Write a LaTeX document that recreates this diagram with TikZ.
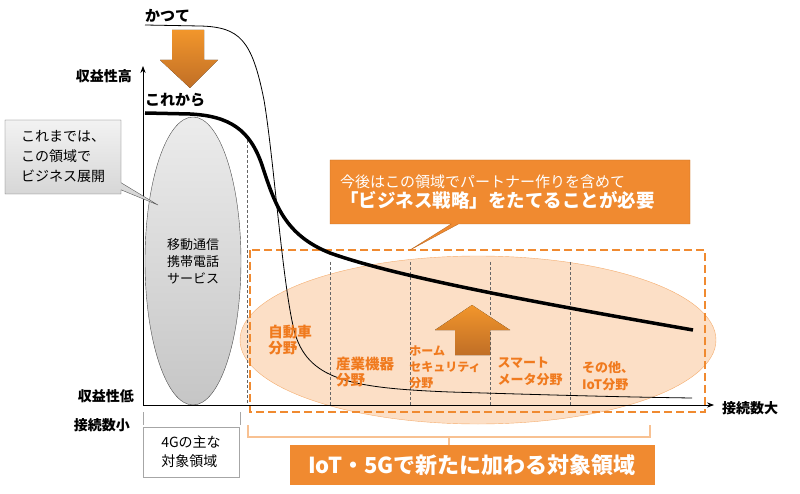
\documentclass[tikz,border=0pt]{standalone}
\usepackage{fontspec}
\setmainfont{Noto Sans CJK JP}
\usetikzlibrary{arrows.meta,shapes.callouts,shapes.geometric}
\definecolor{org}{HTML}{F08A30}
\definecolor{orgl}{HTML}{FBD9BC}
\definecolor{orgt}{HTML}{F07A1E}
\begin{document}
\begin{tikzpicture}[x=1pt,y=-1pt,
  lab/.style={font=\bfseries\fontsize{14}{16}\selectfont,inner sep=0pt},
  olab/.style={font=\bfseries\fontsize{14.5}{16}\selectfont,text=orgt,align=left,inner sep=0pt},
  vdash/.style={densely dashed,gray!80!black,line width=0.6pt}]
\useasboundingbox (0,0) rectangle (800,494);
% light orange ellipse
\node[ellipse,draw=org!80,fill=orgl,opacity=0.85,minimum width=476,minimum height=168] (oe) at (478,340) {};
% gray ellipse
\node[ellipse,draw=black!70,top color=gray!15,bottom color=gray!45,minimum width=96,minimum height=288,align=center,font=\fontsize{13}{17}\selectfont,inner sep=0pt] (ge) at (193,261) {移動通信\\携帯電話\\サービス};
% dashed lines
\draw[vdash] (247,140) -- (247,405);
\foreach \x in {330,410,490,570} \draw[vdash] (\x,262) -- (\x,405);
% orange dashed rect
\draw[org,line width=2pt,dash pattern=on 8pt off 4pt] (250,250) rectangle (705,412);
% axes
\coordinate (o) at (143,405);
\coordinate (yt) at (143,66);
\coordinate (xt) at (714,405);
\draw[-{Stealth[length=7pt]},line width=0.8pt] (o) -- (yt);
\draw[-{Stealth[length=7pt]},line width=0.8pt] (o) -- (xt);
\node[lab,anchor=east] (yh) at (132,76) {収益性高};
\node[lab,anchor=east] (yl) at (134,396) {収益性低};
\node[lab,anchor=east] (xs) at (130,425) {接続数小};
\node[lab,anchor=west] (xl) at (722,408) {接続数大};
% curves
\draw[line width=0.8pt] (145,25) -- (200,26) .. controls (240,27) and (252,40) .. (264,100)
  .. controls (274,160) and (282,280) .. (294,330)
  .. controls (307,380) and (350,388) .. (450,392) .. controls (550,395) and (620,397) .. (692,398);
\draw[line width=3.5pt] (145,113) -- (190,114) .. controls (230,116) and (250,130) .. (262,165)
  .. controls (275,205) and (285,235) .. (330,253)
  .. controls (400,278) and (550,305) .. (693,330);
\node[lab,anchor=south west,font=\bfseries\fontsize{15}{16}\selectfont] (kt) at (145,23) {かつて};
\node[lab,anchor=south west,font=\bfseries\fontsize{15}{16}\selectfont] (kk) at (145,107) {これから};
% down arrow
\fill[top color=org!90!yellow,bottom color=org!80!black] (172,30) -- (204,30) -- (204,60) -- (218,60) -- (190,88) -- (160,60) -- (172,60) -- cycle;
% up arrow
\fill[top color=org!90!yellow,bottom color=org!80!black] (455,355) -- (455,330) -- (435,330) -- (472,305) -- (510,330) -- (490,330) -- (490,355) -- cycle;
% gray callout
\node[rectangle callout,draw=gray!70!black,top color=gray!10,bottom color=gray!35,minimum width=116,minimum height=74,callout absolute pointer={(158,205)},align=left,font=\fontsize{14}{20}\selectfont,inner xsep=4pt] (gc) at (63,157) {これまでは、\\この領域で\\ビジネス展開};
% orange callout
\node[rectangle callout,draw=org!80!black,fill=org,minimum width=360,minimum height=64,text width=340,callout absolute pointer={(410,250)},text=white,align=left] (oc) at (510,192) {\fontsize{15}{18}\selectfont 今後はこの領域でパートナー作りを含めて\\[1pt]\fontsize{18.5}{20}\selectfont\bfseries 「ビジネス戦略」をたてることが必要};
% orange labels
\node[olab] at (290,340) {自動車\\分野};
\node[olab] at (365,372) {産業機器\\分野};
\node[olab,font=\bfseries\fontsize{12}{16}\selectfont] at (445,367) {ホーム\\セキュリティ\\分野};
\node[olab,font=\bfseries\fontsize{13}{17}\selectfont] at (530,371) {スマート\\メータ分野};
\node[olab,font=\bfseries\fontsize{13}{17}\selectfont] at (608,376) {その他、\\IoT分野};
% brace
\coordinate (b1) at (248,425);
\coordinate (b2) at (650,425);
\draw[orgl!70!org,line width=1.5pt] (b1) -- ++(0,12) -- (650,437) -- (b2);
\draw[orgl!70!org,line width=1.5pt] (449,437) -- (449,445);
% bottom box
\node[fill=org,minimum width=365,minimum height=40,text=white,font=\bfseries\fontsize{22}{24}\selectfont] (bb) at (472,465) {IoT・5Gで新たに加わる対象領域};
% 4G box
\draw[gray!70,line width=1pt] (143,412) -- (143,425);
\draw[gray!70,line width=1pt] (240,412) -- (240,425);
\node[draw=gray!70,line width=1pt,fill=white,minimum width=96,minimum height=50,align=left,font=\fontsize{14}{19}\selectfont] (g4) at (191,452) {4Gの主な\\対象領域};
\end{tikzpicture}
\end{document}
